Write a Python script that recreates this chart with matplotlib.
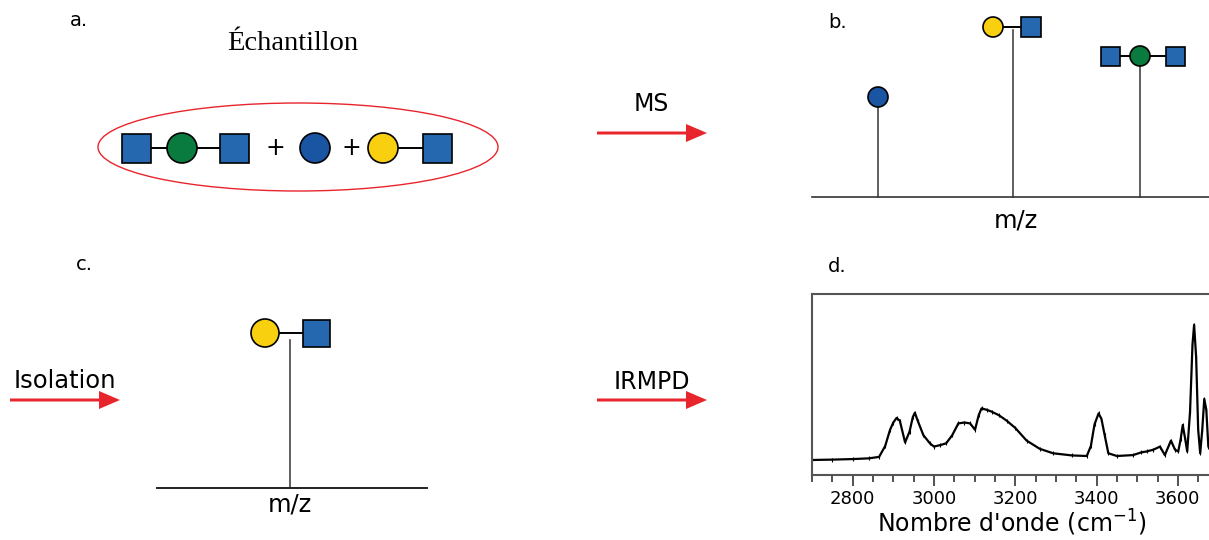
import matplotlib
matplotlib.use("Agg")
import matplotlib.pyplot as plt
from matplotlib.patches import Circle, Rectangle, Ellipse, FancyArrow

# spectre IRMPD (panel d)
wavenumber = [2700, 2750, 2800, 2840, 2865, 2880, 2892, 2900, 2908, 2916, 2929, 2940, 2948,
              2953, 2960, 2974, 2990, 3000, 3015, 3030, 3045, 3060, 3075, 3089, 3101,
              3110, 3117, 3130, 3142, 3160, 3179, 3200, 3228, 3260, 3293, 3340, 3376,
              3386, 3395, 3405, 3412, 3420, 3429, 3450, 3490, 3510, 3523, 3540, 3556,
              3568, 3583, 3593, 3601, 3607, 3612, 3618, 3623, 3630, 3636, 3640, 3645,
              3650, 3655, 3660, 3665, 3670, 3675, 3684]
intensity = [0.083, 0.085, 0.088, 0.092, 0.10, 0.16, 0.25, 0.29, 0.315, 0.30, 0.18, 0.24, 0.32,
             0.344, 0.30, 0.22, 0.175, 0.157, 0.165, 0.175, 0.22, 0.285, 0.29, 0.285, 0.25,
             0.33, 0.368, 0.36, 0.35, 0.33, 0.30, 0.26, 0.19, 0.145, 0.12, 0.108, 0.105,
             0.16, 0.28, 0.34, 0.31, 0.22, 0.12, 0.105, 0.11, 0.125, 0.13, 0.14, 0.157,
             0.11, 0.19, 0.14, 0.13, 0.20, 0.276, 0.20, 0.13, 0.35, 0.72, 0.83, 0.65,
             0.25, 0.12, 0.25, 0.42, 0.36, 0.157, 0.13]
wn_ticks = [2800, 3000, 3200, 3400, 3600]

# spectre de masse (panel b) : position x et sommet du pic, en pixels
ms_x = [878, 1013, 1140]
ms_top = [107, 30, 66]

RED = "#e8252d"
SQ = "#2668b0"
GREEN = "#0a7b3e"
BLUE = "#1a55a4"
YELLOW = "#f8d010"

fig = plt.figure(figsize=(12.09, 5.4), dpi=100)
ax = fig.add_axes([0, 0, 1, 1])
ax.set_xlim(0, 1209)
ax.set_ylim(540, 0)
ax.axis("off")


def square(x, y, s, color=SQ):
    ax.add_patch(Rectangle((x - s / 2, y - s / 2), s, s, fc=color, ec="black", lw=1.2, zorder=3))


def circle(x, y, r, color):
    ax.add_patch(Circle((x, y), r, fc=color, ec="black", lw=1.2, zorder=3))


def bond(x1, x2, y):
    ax.plot([x1, x2], [y, y], color="black", lw=1.4, zorder=2)


def arrow(x1, x2, y):
    ax.add_patch(FancyArrow(x1, y, x2 - x1, 0, width=3, head_width=18, head_length=21,
                            length_includes_head=True, color=RED, lw=0))


# a. echantillon
ax.text(70, 21, "a.", fontsize=14, ha="left", va="center")
ax.text(293, 44, "Échantillon", fontsize=20.5, ha="center", va="center", family="Liberation Serif")
ax.add_patch(Ellipse((298, 147), 400, 88, fill=False, ec=RED, lw=1))
bond(136, 234, 148)
square(136, 148, 29)
circle(182, 148, 15, GREEN)
square(234, 148, 29)
ax.text(275, 148, "+", fontsize=17, ha="center", va="center")
circle(315, 148, 15, BLUE)
ax.text(351, 148, "+", fontsize=17, ha="center", va="center")
bond(383, 437, 148)
circle(383, 148, 15, YELLOW)
square(437, 148, 29)

# fleche MS
ax.text(651, 104, "MS", fontsize=17, ha="center", va="center")
arrow(597, 707, 133)

# b. spectre de masse
ax.text(828, 22, "b.", fontsize=14, ha="left", va="center")
ax.plot([812, 1209], [197, 197], color="#333333", lw=1.2)
for x, top in zip(ms_x, ms_top):
    ax.plot([x, x], [top, 197], color="#444444", lw=1.2, zorder=1)
circle(878, 97, 10, BLUE)
bond(993, 1031, 27)
circle(993, 27, 10, YELLOW)
square(1031, 27, 20)
bond(1110, 1175, 56)
square(1110, 56, 19)
circle(1140, 56, 10, GREEN)
square(1175, 56, 19)
ax.text(1016, 220, "m/z", fontsize=17.5, ha="center", va="center")

# c. isolation
ax.text(76, 265, "c.", fontsize=14, ha="left", va="center")
ax.text(65, 381, "Isolation", fontsize=17.5, ha="center", va="center")
arrow(10, 120, 400)
ax.plot([157, 427], [488, 488], color="#222222", lw=1.4)
ax.plot([290, 290], [340, 488], color="#444444", lw=1.2, zorder=1)
bond(265, 316, 333)
circle(265, 333, 14, YELLOW)
square(316, 333, 27)
ax.text(290, 505, "m/z", fontsize=17.5, ha="center", va="center")

# fleche IRMPD
ax.text(652, 382, "IRMPD", fontsize=17, ha="center", va="center")
arrow(597, 707, 400)

# d. spectre IRMPD
ax.text(828, 267, "d.", fontsize=14, ha="left", va="center")
axd = fig.add_axes([812 / 1209, 1 - 475 / 540, 400 / 1209, 181 / 540])
axd.plot(wavenumber, intensity, color="black", lw=1.6, marker="|", ms=3, mew=0.8)
axd.set_xlim(2700, 3684)
axd.set_ylim(0, 1)
axd.set_yticks([])
axd.set_xticks(wn_ticks)
axd.set_xticks(range(2700, 3700, 50), minor=True)
axd.tick_params(axis="x", which="major", length=8, width=1.2, labelsize=13, colors="#333333",
                labelcolor="black", pad=3)
axd.tick_params(axis="x", which="minor", length=5, width=1.2, colors="#333333")
for s in axd.spines.values():
    s.set_color("#555555")
    s.set_linewidth(1.5)
axd.set_xlabel("Nombre d'onde (cm$^{-1}$)", fontsize=17, labelpad=0)

fig.savefig("out.png", dpi=100)
